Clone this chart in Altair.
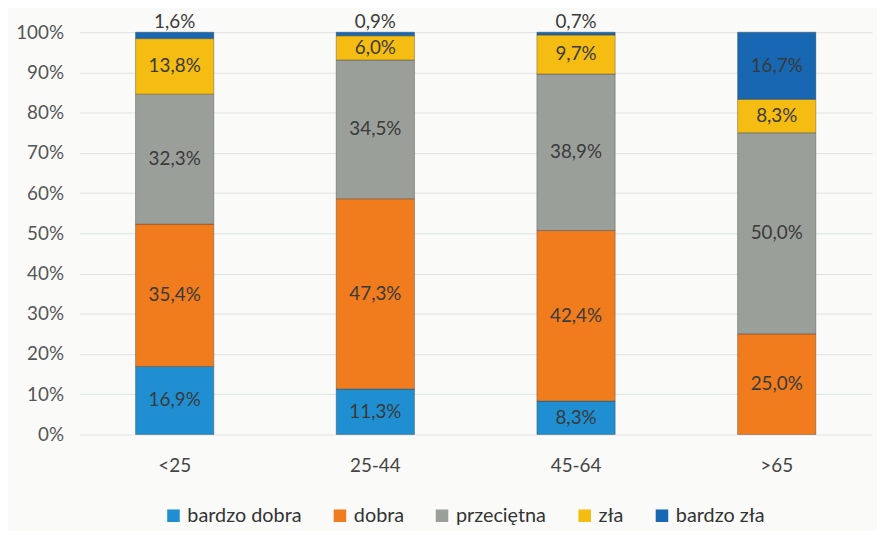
import altair as alt
import pandas as pd

groups = ["<25", "25-44", "45-64", ">65"]
series = ["bardzo dobra", "dobra", "przeciętna", "zła", "bardzo zła"]
bardzo_dobra = [16.9, 11.3, 8.3, 0.0]
dobra = [35.4, 47.3, 42.4, 25.0]
przecietna = [32.3, 34.5, 38.9, 50.0]
zla = [13.8, 6.0, 9.7, 8.3]
bardzo_zla = [1.6, 0.9, 0.7, 16.7]
colors = ["#1f8fd2", "#f07c1e", "#9b9f9a", "#f5bd12", "#1767b2"]

values = [bardzo_dobra, dobra, przecietna, zla, bardzo_zla]
rows = []
for gi, g in enumerate(groups):
    cum = 0.0
    for si, s in enumerate(series):
        v = values[si][gi]
        if v > 0:
            rows.append({
                "group": g, "series": s, "idx": si, "value": v,
                "start": cum, "end": cum + v,
                "ly": (cum + v + 2.6) if v < 2 else (cum + v / 2),
                "label": f"{v:.1f}%".replace(".", ","),
            })
        cum += v
df = pd.DataFrame(rows)

FONT = "Lato"

x = alt.X("group:N", sort=groups, title=None,
          scale=alt.Scale(paddingInner=0.61, paddingOuter=0.28),
          axis=alt.Axis(labelAngle=0, domain=False, ticks=False, labelFontSize=19,
                        labelColor="#444", labelPadding=22, labelFont=FONT))

bars = alt.Chart(df).mark_bar(stroke="#333", strokeWidth=0.8, strokeOpacity=0.45).encode(
    x=x,
    y=alt.Y("start:Q", title=None,
            scale=alt.Scale(domain=[0, 100]),
            axis=alt.Axis(values=[0, 10, 20, 30, 40, 50, 60, 70, 80, 90, 100],
                          labelExpr="datum.value + '%'", domain=False, ticks=False,
                          labelFontSize=19, labelColor="#555", labelPadding=16,
                          gridColor="#dfe3df", labelFont=FONT)),
    y2="end:Q",
    color=alt.Color("series:N", sort=series,
                    scale=alt.Scale(domain=series, range=colors),
                    legend=alt.Legend(title=None, orient="none", direction="horizontal",
                                      legendX=85, legendY=478,
                                      symbolType="square", symbolSize=160,
                                      symbolStrokeWidth=0, labelFontSize=20,
                                      labelColor="#333", labelFont=FONT,
                                      columnPadding=28)),
)

texts = alt.Chart(df).mark_text(fontSize=19, color="#3a3a3a", font=FONT).encode(
    x=alt.X("group:N", sort=groups),
    y=alt.Y("ly:Q"),
    text="label:N",
)

chart = (bars + texts).properties(
    width=800, height=406,
    autosize=alt.AutoSizeParams(type="none"),
    padding={"left": 72, "top": 22, "right": 5, "bottom": 95},
    background="#fafbf9",
).configure_view(stroke=None)

chart.save("out.html", embed_options={"renderer": "svg", "actions": False})
